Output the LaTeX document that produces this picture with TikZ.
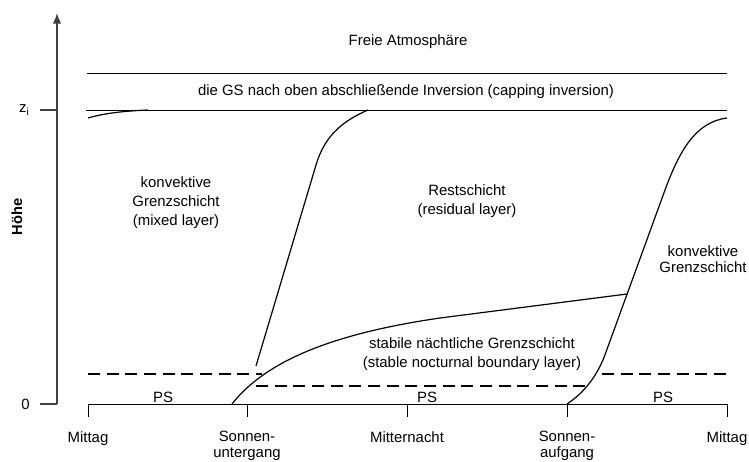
\documentclass[tikz,border=0pt]{standalone}
\usepackage{fontspec}
\setmainfont{Liberation Sans}
\usetikzlibrary{arrows.meta, positioning}

\begin{document}
\begin{tikzpicture}[x=0.75pt, y=-0.75pt,
	every node/.style = {font=\fontsize{11.2}{14.2}\selectfont, align=center},
	achse/.style = {line width=1.2pt, draw=black!75},
	schicht/.style = {line width=0.7pt},
	kurve/.style = {line width=0.9pt},
	ps dick/.style = {line width=2.2pt, dash pattern=on 9pt off 5pt},
	ps duenn/.style = {line width=1.1pt, dash pattern=on 9pt off 5pt},
	zeit/.style = {font=\fontsize{11.2}{11.5}\selectfont, anchor=north, inner sep=0pt}
	]
	\useasboundingbox (0,0) rectangle (749,461);

	% Achsen
	\coordinate (null) at (57,404);
	\coordinate (spitze) at (57,13);
	\coordinate (zi) at (57,110);
	\draw [achse, -{Latex[length=8pt, width=6.5pt]}] (null) -- (spitze);
	\draw [achse, line width=0.8pt] (null) -- ++(-17,0);
	\draw [achse, line width=0.8pt] (zi) -- ++(-17,0);
	\node (hoehe) at (17,217) [rotate=90, font=\bfseries\fontsize{11}{13}\selectfont] {Höhe};
	\node (zilabel) [left=3pt of zi, xshift=-14pt] {z\textsubscript{i}};
	\node (nulllabel) [left=3pt of null, xshift=-14pt] {0};

	% Zeitachse
	\coordinate (t0) at (88,404);
	\coordinate (t1) at (247,404);
	\coordinate (t2) at (407,404);
	\coordinate (t3) at (567,404);
	\coordinate (t4) at (727,404);
	\draw [schicht] (t0) -- (t4);
	\draw [schicht] (t0) -- ++(0,13);
	\draw [schicht] (t1) -- ++(0,13);
	\draw [schicht] (t2) -- ++(0,13);
	\draw [schicht] (t3) -- ++(0,13);
	\draw [schicht] (t4) -- ++(0,13);
	\node (mittag1) [zeit] at (88,431) {Mittag};
	\node (untergang) [zeit] at (247,431) {Sonnen-\\untergang};
	\node (mitternacht) [zeit] at (407,431) {Mitternacht};
	\node (aufgang) [zeit] at (567,431) {Sonnen-\\aufgang};
	\node (mittag2) [zeit] at (727,431) {Mittag};

	% Inversion
	\coordinate (inv1) at (87,73);
	\coordinate (inv2) at (727,73);
	\coordinate (inv3) at (86,110);
	\coordinate (inv4) at (727,110);
	\draw [schicht] (inv1) -- (inv2);
	\draw [schicht] (inv3) -- (inv4);
	\node (freie) at (408,42) {Freie Atmosphäre};
	\node (capping) at (406,92) {die GS nach oben abschließende Inversion (capping inversion)};

	% Grenzschichten
	\draw [kurve] (88,118) .. controls (105,113) and (125,111) .. (148,110);
	\draw [kurve] (256,366) -- (316,165) .. controls (324,138) and (340,122) .. (368,110);
	\draw [kurve] (232,404) .. controls (265,362) and (330,334) .. (440,318) -- (627,294);
	\draw [kurve] (567,404) .. controls (585,392) and (598,375) .. (606,352)
		-- (665,190) .. controls (679,152) and (695,122) .. (727,118);

	\node (mixed) at (176,203) {konvektive\\Grenzschicht\\(mixed layer)};
	\node (rest) at (467,201) {Restschicht\\(residual layer)};
	\node (stabil) at (472,354) {stabile nächtliche Grenzschicht\\(stable nocturnal boundary layer)};
	\node (konvektiv) at (703,259) [font=\fontsize{11.2}{11.5}\selectfont] {konvektive\\Grenzschicht};

	% Prandtl-Schicht
	\coordinate (ps1a) at (88,374);
	\coordinate (ps1b) at (262,374);
	\coordinate (ps2a) at (256,386);
	\coordinate (ps2b) at (590,386);
	\coordinate (ps3a) at (602,374);
	\coordinate (ps3b) at (727,374);
	\draw [ps dick] (ps1a) -- (ps1b);
	\draw [ps duenn] (ps2a) -- (ps2b);
	\draw [ps dick] (ps3a) -- (ps3b);
	\node (ps1) at (163,397) {PS};
	\node (ps2) at (427,397) {PS};
	\node (ps3) at (663,397) {PS};
\end{tikzpicture}
\end{document}
